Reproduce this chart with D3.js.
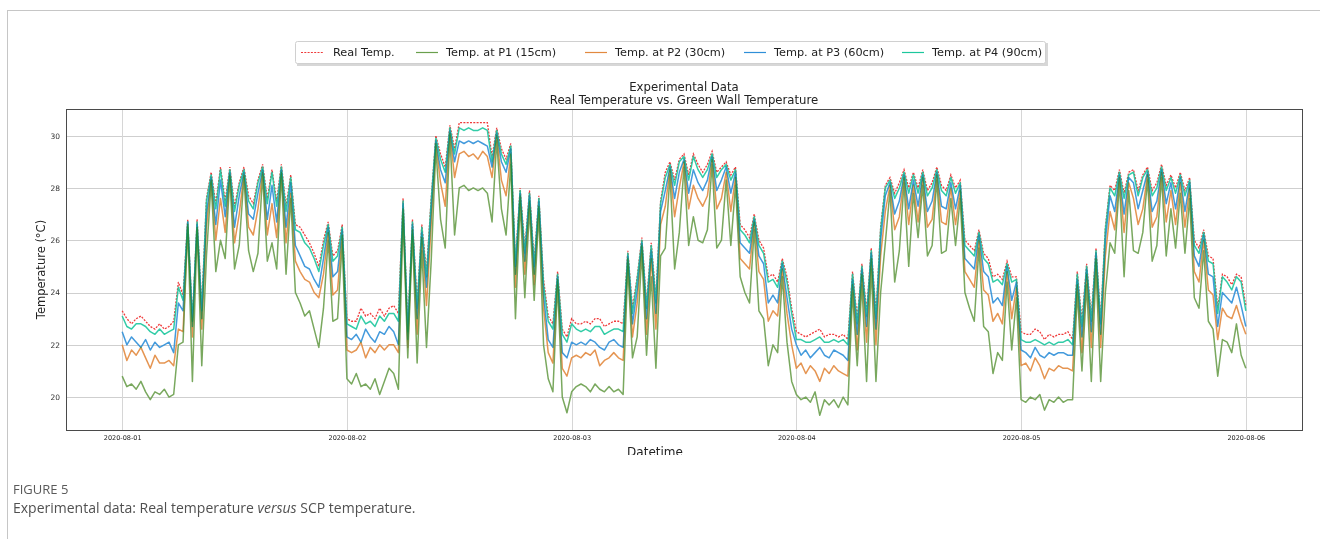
<!DOCTYPE html>
<html>
<head>
<meta charset="utf-8">
<script src="https://cdn.jsdelivr.net/npm/d3@7"></script>
<style>
  body { margin: 0; background: #fff; }
  svg { display: block; }
</style>
</head>
<body>
<div id="chart"></div>
<script>

// half-hourly readings, 2020-08-01 00:00 .. 2020-08-06 00:00
var seriesNames = ["Real Temp.", "Temp. at P1 (15cm)", "Temp. at P2 (30cm)", "Temp. at P3 (60cm)", "Temp. at P4 (90cm)"];
var yTicks = [20, 22, 24, 26, 28, 30];

var realTemp = [
  23.3,23.0,22.8,23.0,23.1,22.9,22.7,22.6,22.8,22.6,22.7,22.9, 24.4,23.9,26.8,23.0,26.8,23.5,
  27.6,28.6,27.4,28.8,27.5,28.8,27.3,28.2,28.8,27.7,27.4,28.3,28.9,27.6,28.7,27.5,28.9,27.3,28.5,
  26.6,26.5,26.2,25.9,25.5,25.0,26.0,26.7,25.4,25.6,26.6,
  23.0,22.9,22.9,23.4,23.1,23.2,23.0,23.4,23.1,23.4,23.5,23.2, 27.6,22.7,26.8,23.6,26.6,24.8,
  27.6,30.0,29.3,28.8,30.4,29.5, 30.5,30.5,30.5,30.5,30.5,30.5,30.5, 29.2,30.3,29.5,29.1,29.7,
  25.2,28.0,25.7,27.9,25.2,27.7, 24.5,23.1,22.8,24.8,22.6,22.3,
  23.0,22.8,22.8,22.9,22.8,23.0,23.0,22.7,22.8,22.9,22.9,22.8, 25.6,23.4,24.6,26.1,23.6,25.9,23.8,27.5,
  28.6,29.0,28.3,29.1,29.3,28.5,29.3,28.9,28.6,28.9,29.4,28.6,28.8,29.0,28.5,28.8,
  26.6,26.4,26.1,27.0,26.0,25.7, 24.6,24.7,24.4,25.3,24.6,23.4,
  22.5,22.4,22.3,22.4,22.5,22.6,22.3,22.4,22.4,22.3,22.4,22.2, 24.8,23.0,25.1,23.3,25.7,23.2,26.5,28.1,
  28.4,27.8,28.2,28.7,28.0,28.6,28.0,28.7,27.9,28.2,28.8,28.1,27.9,28.5,28.0,28.3,
  26.0,25.8,25.6,26.4,25.5,25.3, 24.6,24.7,24.5,25.2,24.6,24.6,
  22.5,22.4,22.4,22.6,22.5,22.2,22.4,22.3,22.4,22.4,22.5,22.2, 24.8,22.9,25.1,23.1,25.7,23.0,26.5,28.1,
  27.9,28.7,27.8,28.6,28.7,27.9,28.5,28.8,27.9,28.2,28.9,28.1,28.5,28.0,28.6,27.9,28.4,
  26.0,25.7,26.4,25.4,25.3, 23.4,24.7,24.6,24.3,24.7,24.6,23.5
];

var tempP1 = [
  20.8,20.4,20.5,20.3,20.6,20.2,19.9,20.2,20.1,20.3,20.0,20.1, 22.0,22.1,26.5,20.6,26.4,21.2,
  25.4,28.2,24.8,26.0,25.3,28.4,24.9,25.8,28.4,25.6,24.8,25.5,28.5,25.2,25.9,24.9,28.5,24.7,27.6,
  24.0,23.6,23.1,23.3,22.6,21.9,23.4,26.0,22.9,23.0,25.9,
  20.7,20.5,20.9,20.4,20.5,20.3,20.7,20.1,20.6,21.1,20.9,20.3, 26.9,21.5,26.2,21.3,25.6,21.9,
  25.2,29.5,26.8,25.7,30.0,26.2, 28.0,28.1,27.9,28.0,27.9,28.0,27.8, 26.7,29.8,27.2,26.2,28.9,
  23.0,27.4,23.8,27.2,23.7,27.0, 22.0,20.7,20.2,24.3,20.0,19.4,
  20.2,20.4,20.5,20.4,20.2,20.5,20.3,20.2,20.4,20.2,20.3,20.1, 25.0,21.5,22.3,25.5,21.6,24.6,21.1,25.4,
  25.7,28.5,24.9,26.3,28.8,25.8,26.9,26.0,25.9,26.4,28.9,25.7,26.0,28.3,25.8,28.1,
  24.6,24.0,23.6,26.4,23.3,23.0, 21.2,22.0,21.7,24.6,22.1,20.6,
  20.1,19.9,20.0,19.8,20.2,19.3,19.9,19.7,19.9,19.6,20.0,19.7, 24.0,21.2,24.3,20.6,24.9,20.6,24.0,25.9,
  27.9,24.4,25.6,28.2,25.0,27.8,26.1,28.1,25.4,25.8,28.3,25.5,25.6,27.6,25.8,27.6,
  24.0,23.4,22.9,25.7,22.7,22.5, 20.9,21.7,21.4,24.4,21.8,23.8,
  19.9,19.8,20.0,19.9,20.1,19.5,19.9,19.8,20.0,19.8,19.9,19.9, 24.0,21.0,24.3,20.6,24.9,20.6,24.0,25.9,
  25.5,28.2,24.6,27.9,25.6,25.5,26.3,28.3,25.2,25.8,28.4,25.4,27.2,25.7,27.8,25.5,27.6,
  23.8,23.4,25.6,22.9,22.6, 20.8,22.2,22.1,21.7,22.8,21.6,21.1
];

var tempP2 = [
  22.0,21.4,21.8,21.6,21.9,21.5,21.1,21.6,21.3,21.3,21.4,21.2, 22.6,22.5,26.6,22.3,26.5,22.6,
  26.5,28.3,26.0,27.6,26.3,28.5,25.9,27.0,28.5,26.5,26.2,27.2,28.6,26.2,27.4,26.1,28.6,25.9,27.8,
  25.2,24.8,24.5,24.4,24.0,23.8,24.7,26.3,23.9,24.1,26.2,
  21.8,21.7,21.8,22.1,21.5,21.9,21.7,22.0,21.8,22.0,22.0,21.7, 27.2,21.9,26.4,22.4,26.1,23.5,
  26.6,29.7,28.2,27.3,30.1,28.4, 29.3,29.4,29.2,29.3,29.1,29.4,29.2, 28.4,30.0,28.3,27.7,29.3,
  24.2,27.7,24.7,27.5,24.3,27.3, 23.4,21.7,21.3,24.5,21.1,20.8,
  21.5,21.6,21.5,21.7,21.6,21.8,21.2,21.4,21.5,21.7,21.5,21.4, 25.3,22.3,23.6,25.8,22.4,25.3,22.6,26.6,
  27.3,28.7,26.9,28.0,29.0,27.2,28.1,27.6,27.3,27.7,29.1,27.2,27.6,28.6,27.1,28.4,
  25.3,25.1,24.9,26.7,24.8,24.5, 22.9,23.3,23.1,24.9,23.2,22.0,
  21.1,21.3,20.9,21.2,21.0,20.6,21.1,20.9,21.2,21.0,20.9,20.8, 24.3,21.8,24.7,22.1,25.3,22.0,25.4,27.1,
  28.1,26.4,26.9,28.4,26.6,28.1,26.7,28.4,26.5,26.8,28.5,26.7,26.6,28.0,26.6,27.9,
  24.8,24.5,24.2,26.0,24.1,23.9, 22.9,23.2,22.8,24.8,23.0,24.2,
  21.2,21.3,21.0,21.5,21.2,20.7,21.1,21.0,21.2,21.1,21.1,21.0, 24.3,21.7,24.7,21.9,25.3,21.9,25.4,27.1,
  26.4,28.4,26.3,28.2,27.6,26.6,27.2,28.5,26.5,26.9,28.6,26.7,27.9,26.6,28.2,26.5,28.0,
  24.8,24.4,26.0,24.1,23.9, 22.2,23.4,23.1,23.0,23.5,22.9,22.4
];

var tempP3 = [
  22.5,22.0,22.3,22.1,21.9,22.2,21.8,22.1,21.9,22.0,22.1,21.7, 23.6,23.3,26.7,22.7,26.6,23.0,
  27.0,28.4,26.6,28.3,26.9,28.6,26.5,27.7,28.6,27.0,26.8,27.8,28.7,26.8,28.1,26.7,28.7,26.5,28.2,
  25.8,25.4,25.0,24.9,24.5,24.2,25.3,26.5,24.6,24.8,26.4,
  22.3,22.2,22.4,22.1,22.6,22.3,22.1,22.5,22.4,22.7,22.5,22.0, 27.4,22.2,26.6,23.0,26.3,24.2,
  27.1,29.8,28.7,28.2,30.2,29.0, 29.8,29.7,29.8,29.7,29.8,29.7,29.6, 28.8,30.1,29.0,28.6,29.5,
  24.7,27.8,25.2,27.7,24.7,27.5, 23.9,22.2,21.9,24.6,21.7,21.5,
  22.1,22.0,22.1,22.0,22.2,22.1,21.9,21.8,22.1,22.2,22.0,21.9, 25.4,22.8,24.1,25.9,23.0,25.6,23.2,27.1,
  27.9,28.8,27.6,28.6,29.1,27.8,28.7,28.2,27.9,28.3,29.2,27.9,28.3,28.8,27.8,28.6,
  25.9,25.7,25.5,26.8,25.4,25.1, 23.6,23.9,23.6,25.1,23.8,22.6,
  22.0,21.6,21.8,21.5,21.7,21.9,21.6,21.5,21.8,21.7,21.6,21.4, 24.5,22.4,24.9,22.7,25.5,22.6,26.0,27.7,
  28.2,27.0,27.5,28.5,27.2,28.3,27.3,28.5,27.1,27.5,28.6,27.3,27.2,28.2,27.2,28.1,
  25.3,25.1,24.9,26.2,24.8,24.6, 23.6,23.8,23.5,25.0,23.7,24.4,
  21.8,21.7,21.5,21.9,21.6,21.5,21.7,21.6,21.7,21.7,21.6,21.6, 24.5,22.3,24.9,22.5,25.5,22.4,26.0,27.7,
  27.1,28.5,27.0,28.4,28.2,27.2,27.9,28.6,27.1,27.5,28.7,27.4,28.2,27.2,28.4,27.1,28.2,
  25.4,25.0,26.2,24.7,24.6, 22.7,24.0,23.8,23.6,24.2,23.5,22.7
];

var tempP4 = [
  23.1,22.7,22.6,22.8,22.8,22.7,22.5,22.4,22.6,22.4,22.5,22.6, 24.2,23.7,26.7,22.9,26.7,23.3,
  27.5,28.5,27.2,28.7,27.3,28.7,27.1,28.1,28.7,27.5,27.2,28.2,28.8,27.4,28.6,27.3,28.8,27.1,28.4,
  26.4,26.3,25.9,25.7,25.3,24.8,25.8,26.6,25.2,25.4,26.5,
  22.8,22.7,22.6,23.1,22.8,22.9,22.7,23.1,22.9,23.2,23.2,22.9, 27.5,22.5,26.7,23.4,26.5,24.6,
  27.5,29.9,29.1,28.6,30.3,29.3, 30.3,30.2,30.3,30.2,30.2,30.3,30.2, 29.0,30.2,29.3,28.9,29.6,
  25.0,27.9,25.5,27.8,25.0,27.6, 24.3,22.9,22.6,24.7,22.4,22.1,
  22.8,22.6,22.5,22.6,22.5,22.7,22.7,22.4,22.5,22.6,22.6,22.5, 25.5,23.2,24.5,26.0,23.4,25.8,23.6,27.4,
  28.4,28.9,28.1,29.0,29.2,28.3,29.2,28.7,28.4,28.7,29.3,28.4,28.7,28.9,28.3,28.7,
  26.4,26.2,25.9,26.9,25.8,25.5, 24.4,24.5,24.2,25.2,24.4,23.2,
  22.2,22.2,22.1,22.1,22.2,22.3,22.1,22.1,22.2,22.1,22.2,22.0, 24.7,22.8,25.0,23.1,25.6,23.0,26.4,28.0,
  28.3,27.6,28.0,28.6,27.8,28.5,27.8,28.6,27.7,28.0,28.7,27.9,27.7,28.4,27.8,28.2,
  25.8,25.6,25.4,26.3,25.3,25.1, 24.4,24.5,24.3,25.1,24.4,24.5,
  22.2,22.1,22.1,22.2,22.1,22.0,22.1,22.0,22.1,22.1,22.2,22.0, 24.7,22.7,25.0,22.9,25.6,22.8,26.4,28.0,
  27.7,28.6,27.6,28.5,28.6,27.7,28.4,28.7,27.7,28.0,28.8,27.9,28.4,27.8,28.5,27.7,28.3,
  25.8,25.5,26.3,25.2,25.1, 23.2,24.6,24.4,24.1,24.6,24.4,23.3
];

var startTime = Date.UTC(2020, 7, 1);
var stepMs = 30 * 60 * 1000;
var times = realTemp.map(function(d, i) { return new Date(startTime + i * stepMs); });

var colors = ["#ef3b3b", "#6a9f4d", "#e2893f", "#2f8fd8", "#1cc79d"];
var allSeries = [realTemp, tempP1, tempP2, tempP3, tempP4];

// page + plot box
var W = 1320, H = 539;
var margin = {top: 109, left: 66},
    width = 1236,
    height = 321;

var svg = d3.select("#chart")
  .append("svg")
    .attr("width", W)
    .attr("height", H)
    .style("font-family", "'DejaVu Sans', sans-serif");

// figure frame of the page
svg.append("line").attr("x1", 7.5).attr("x2", 7.5).attr("y1", 10).attr("y2", H)
  .attr("stroke", "#c6c6c6");
svg.append("line").attr("x1", 7).attr("x2", W).attr("y1", 10.5).attr("y2", 10.5)
  .attr("stroke", "#c6c6c6");

var g = svg.append("g")
  .attr("transform", "translate(" + margin.left + "," + margin.top + ")");

var x = d3.scaleUtc()
  .domain([new Date(startTime - 6 * 3600000), new Date(startTime + 5 * 86400000 + 6 * 3600000)])
  .range([0, width]);
var y = d3.scaleLinear()
  .domain([18.74, 31.02])
  .range([height, 0]);

var dayTicks = d3.utcDay.range(new Date(startTime), new Date(startTime + 5 * 86400000 + 1));

// grid
g.append("g")
  .selectAll("line")
  .data(yTicks)
  .enter().append("line")
    .attr("x1", 0).attr("x2", width)
    .attr("y1", function(d) { return Math.round(y(d)) + 0.5; })
    .attr("y2", function(d) { return Math.round(y(d)) + 0.5; })
    .attr("stroke", "#cfcfcf");
g.append("g")
  .selectAll("line")
  .data(dayTicks)
  .enter().append("line")
    .attr("y1", 0).attr("y2", height)
    .attr("x1", function(d) { return Math.round(x(d)) + 0.5; })
    .attr("x2", function(d) { return Math.round(x(d)) + 0.5; })
    .attr("stroke", "#d6d6d6");

// axes (labels only)
var yAxis = g.append("g")
  .call(d3.axisLeft(y).tickValues(yTicks).tickSize(0).tickPadding(6));
yAxis.select(".domain").remove();
yAxis.selectAll("text").attr("font-size", 7.5).attr("fill", "#333")
  .attr("font-family", "'DejaVu Sans', sans-serif");

var xAxis = g.append("g")
  .attr("transform", "translate(0," + height + ")")
  .call(d3.axisBottom(x).tickValues(dayTicks).tickFormat(d3.utcFormat("%Y-%m-%d")).tickSize(0).tickPadding(5));
xAxis.select(".domain").remove();
xAxis.selectAll("text").attr("font-size", 6.5).attr("fill", "#222")
  .attr("font-family", "'DejaVu Sans', sans-serif");

// lines
g.append("clipPath").attr("id", "plotclip")
  .append("rect").attr("width", width).attr("height", height);

var line = d3.line()
  .x(function(d, i) { return x(times[i]); })
  .y(function(d) { return y(d); });

var plotArea = g.append("g").attr("clip-path", "url(#plotclip)");

// real temperature underneath, sensor lines blended among themselves
plotArea.append("path")
  .datum(realTemp)
  .attr("fill", "none")
  .attr("stroke", colors[0])
  .attr("stroke-width", 1.3)
  .attr("stroke-dasharray", "2,1.3")
  .attr("d", line);

var sensors = plotArea.append("g").style("isolation", "isolate");
allSeries.slice(1).forEach(function(s, k) {
  sensors.append("path")
    .datum(s)
    .attr("fill", "none")
    .attr("stroke", colors[k + 1])
    .attr("stroke-width", 1.5)
    .attr("stroke-opacity", 0.9)
    .attr("stroke-linejoin", "round")
    .style("mix-blend-mode", "darken")
    .attr("d", line);
});

// plot frame
g.append("rect")
  .attr("x", 0.5).attr("y", 0.5)
  .attr("width", width).attr("height", height)
  .attr("fill", "none")
  .attr("stroke", "#4a4a4a");

// titles
svg.append("text").attr("x", 684).attr("y", 91).attr("text-anchor", "middle")
  .attr("font-size", 11.7).attr("fill", "#222").text("Experimental Data");
svg.append("text").attr("x", 684).attr("y", 104).attr("text-anchor", "middle")
  .attr("font-size", 11.7).attr("fill", "#222").text("Real Temperature vs. Green Wall Temperature");

svg.append("text")
  .attr("transform", "translate(45," + (margin.top + height / 2) + ") rotate(-90)")
  .attr("text-anchor", "middle")
  .attr("font-size", 11.5).attr("fill", "#222")
  .text("Temperature (°C)");

svg.append("clipPath").attr("id", "figclip")
  .append("rect").attr("x", 0).attr("y", 0).attr("width", W).attr("height", 455);
svg.append("text")
  .attr("clip-path", "url(#figclip)")
  .attr("x", 655).attr("y", 456).attr("text-anchor", "middle")
  .attr("font-size", 12).attr("fill", "#222")
  .text("Datetime");

// legend
var legendX = [301, 416, 585, 744, 902];
svg.append("rect").attr("x", 297).attr("y", 43).attr("width", 751).attr("height", 23)
  .attr("fill", "#bdbdbd").attr("opacity", 0.6);
svg.append("rect").attr("x", 295.5).attr("y", 41.5).attr("width", 750).attr("height", 22)
  .attr("rx", 2).attr("fill", "#fff").attr("stroke", "#d0d0d0");
var leg = svg.append("g").selectAll("g")
  .data(seriesNames)
  .enter().append("g")
    .attr("transform", function(d, i) { return "translate(" + legendX[i] + ",52.5)"; });
leg.append("line")
  .attr("x1", 0).attr("x2", 22)
  .attr("stroke", function(d, i) { return colors[i]; })
  .attr("stroke-width", function(d, i) { return i == 0 ? 1 : 1.2; })
  .attr("stroke-dasharray", function(d, i) { return i == 0 ? "2,1.3" : null; });
leg.append("text")
  .attr("x", function(d, i) { return i == 0 ? 32 : 30; })
  .attr("dy", "0.35em")
  .attr("font-size", 11.3).attr("fill", "#222")
  .text(function(d) { return d; });

// caption
svg.append("text").attr("x", 13).attr("y", 494)
  .attr("font-family", "'Open Sans', sans-serif").attr("font-size", 13)
  .attr("fill", "#5a5a5a").text("FIGURE 5");
var cap = svg.append("text").attr("x", 13).attr("y", 513)
  .attr("font-family", "'Open Sans', sans-serif").attr("font-size", 14)
  .attr("fill", "#505050");
cap.append("tspan").text("Experimental data: Real temperature ");
cap.append("tspan").attr("font-style", "italic").text("versus");
cap.append("tspan").text(" SCP temperature.");

</script>
</body>
</html>
